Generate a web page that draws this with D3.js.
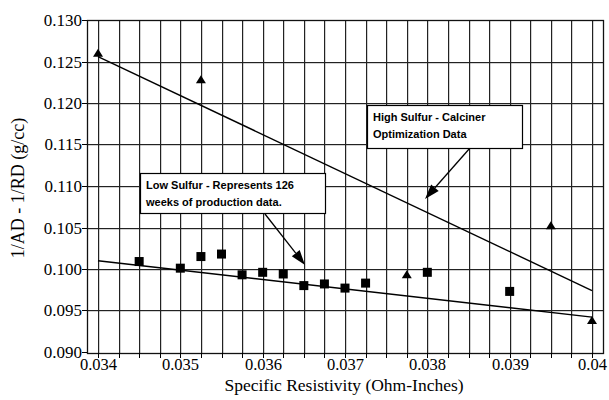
<!DOCTYPE html>
<html>
<head>
<meta charset="utf-8">
<script src="https://cdn.jsdelivr.net/npm/d3@7"></script>
<style>
  body { margin: 0; background: #fff; }
  .tick text { font-family: "Liberation Serif", "Times New Roman", serif; }
</style>
</head>
<body>
<div id="vis"></div>
<script>
// frame constants
const FRAME_WIDTH = 609;
const FRAME_HEIGHT = 400;
const PLOT = {left: 87, right: 603, top: 20, bottom: 353};

// data
const xTicks = [0.034, 0.035, 0.036, 0.037, 0.038, 0.039, 0.04];
const yTicks = [0.090, 0.095, 0.100, 0.105, 0.110, 0.115, 0.120, 0.125, 0.130];

// high sulfur - calciner optimization (triangles)
const highX = [0.034, 0.03525, 0.03775, 0.0395, 0.04];
const highY = [0.1260, 0.1228, 0.0993, 0.1052, 0.0938];

// low sulfur - 126 weeks of production (squares)
const lowX = [0.0345, 0.035, 0.03525, 0.0355, 0.03575, 0.036, 0.03625, 0.0365, 0.03675, 0.037, 0.03725, 0.038, 0.039];
const lowY = [0.1009, 0.1001, 0.1015, 0.1018, 0.0993, 0.0996, 0.0994, 0.0980, 0.0982, 0.0977, 0.0983, 0.0996, 0.0973];

// trend lines (end points)
const highFitX = [0.034, 0.04];
const highFitY = [0.1256, 0.0974];
const lowFitX = [0.034, 0.04];
const lowFitY = [0.1010, 0.0942];

const FRAME = d3.select("#vis")
  .append("svg")
    .attr("width", FRAME_WIDTH)
    .attr("height", FRAME_HEIGHT);

// white background
FRAME.append("rect")
  .attr("width", FRAME_WIDTH)
  .attr("height", FRAME_HEIGHT)
  .attr("fill", "#fff");

// scales
const X_SCALE = d3.scaleLinear()
  .domain([0.034, 0.04])
  .range([98, 592]);

const Y_SCALE = d3.scaleLinear()
  .domain([0.09, 0.13])
  .range([352, 20]);

// minor x steps every 0.00025
const xMinor = d3.range(0, 25).map((i) => { return 0.034 + i * 0.00025; });

// vertical grid: 1px wide bars
FRAME.append("g")
  .selectAll("rect")
  .data(xMinor)
  .enter()
  .append("rect")
    .attr("x", (d) => { return Math.round(X_SCALE(d)); })
    .attr("y", PLOT.top)
    .attr("width", 1.2)
    .attr("height", PLOT.bottom - PLOT.top)
    .attr("fill", "#222");

// horizontal grid
FRAME.append("g")
  .selectAll("rect")
  .data(yTicks.slice(1, -1))
  .enter()
  .append("rect")
    .attr("x", PLOT.left)
    .attr("y", (d) => { return Math.round(Y_SCALE(d)); })
    .attr("width", PLOT.right - PLOT.left)
    .attr("height", 1.2)
    .attr("fill", "#222");

// plot border
FRAME.append("rect")
  .attr("x", PLOT.left + 0.5)
  .attr("y", PLOT.top + 0.5)
  .attr("width", PLOT.right - PLOT.left)
  .attr("height", PLOT.bottom - PLOT.top)
  .attr("fill", "none")
  .attr("stroke", "#111")
  .attr("stroke-width", 1.3);

// snap tick positions to whole pixels
const snapX = (g) => g.selectAll(".tick")
  .attr("transform", (d) => { return "translate(" + (Math.round(X_SCALE(d)) + 0.5) + ",0)"; });
const snapY = (g) => g.selectAll(".tick")
  .attr("transform", (d) => { return "translate(0," + (Math.round(Y_SCALE(d)) + 0.5) + ")"; });

// x axis (minor ticks)
FRAME.append("g")
  .attr("transform", "translate(0," + PLOT.bottom + ")")
  .call(d3.axisBottom(X_SCALE).tickValues(xMinor).tickSize(5).tickFormat(""))
  .call(snapX)
  .call((g) => g.select(".domain").remove());

// x axis labels
FRAME.append("g")
  .attr("transform", "translate(0," + PLOT.bottom + ")")
  .call(d3.axisBottom(X_SCALE).tickValues(xTicks).tickSize(5).tickPadding(0)
        .tickFormat((d) => { return d === 0.04 ? "0.04" : d3.format(".3f")(d); }))
  .call(snapX)
  .call((g) => g.select(".domain").remove())
  .attr("font-size", "16.5px");

// y axis
FRAME.append("g")
  .attr("transform", "translate(" + PLOT.left + ",0)")
  .call(d3.axisLeft(Y_SCALE).tickValues(yTicks).tickSize(5).tickPadding(0)
        .tickFormat(d3.format(".3f")))
  .call(snapY)
  .call((g) => g.select(".domain").remove())
  .attr("font-size", "17px");

// axis titles
FRAME.append("text")
  .attr("x", 344)
  .attr("y", 391)
  .attr("text-anchor", "middle")
  .attr("font-family", "Liberation Serif, Times New Roman, serif")
  .attr("font-size", "17.5px")
  .text("Specific Resistivity (Ohm-Inches)");

FRAME.append("text")
  .attr("transform", "translate(24,188) rotate(-90)")
  .attr("text-anchor", "middle")
  .attr("font-family", "Liberation Serif, Times New Roman, serif")
  .attr("font-size", "18px")
  .text("1/AD - 1/RD (g/cc)");

// trend lines
const line = d3.line()
  .x((d) => { return X_SCALE(d[0]); })
  .y((d) => { return Y_SCALE(d[1]); });

FRAME.append("path")
  .datum(d3.zip(highFitX, highFitY))
  .attr("d", line)
  .attr("fill", "none")
  .attr("stroke", "#000")
  .attr("stroke-width", 1.4);

FRAME.append("path")
  .datum(d3.zip(lowFitX, lowFitY))
  .attr("d", line)
  .attr("fill", "none")
  .attr("stroke", "#000")
  .attr("stroke-width", 1.4);

// squares
FRAME.append("g")
  .selectAll("rect")
  .data(d3.zip(lowX, lowY))
  .enter()
  .append("rect")
    .attr("x", (d) => { return X_SCALE(d[0]) - 4.5; })
    .attr("y", (d) => { return Y_SCALE(d[1]) - 4.5; })
    .attr("width", 9)
    .attr("height", 9)
    .attr("fill", "#000");

// triangles
FRAME.append("g")
  .selectAll("path")
  .data(d3.zip(highX, highY))
  .enter()
  .append("path")
    .attr("transform", (d) => { return "translate(" + X_SCALE(d[0]) + "," + Y_SCALE(d[1]) + ")"; })
    .attr("d", "M0,-4.5L5,3.5L-5,3.5Z")
    .attr("fill", "#000");

// annotations
const notes = [
  {x: 140, y: 173, w: 185, h: 40, lines: ["Low Sulfur - Represents 126", "weeks of production data."],
   arrow: [[265, 214], [305, 265]]},
  {x: 367, y: 105, w: 155, h: 43, lines: ["High Sulfur  - Calciner", "Optimization Data"],
   arrow: [[470, 148], [425, 199]]}
];

notes.forEach((n) => {
  // arrow shaft + head
  const [p0, p1] = n.arrow;
  const ang = Math.atan2(p1[1] - p0[1], p1[0] - p0[0]);
  const L = 15, W = 5;
  const bx = p1[0] - L * Math.cos(ang), by = p1[1] - L * Math.sin(ang);
  FRAME.append("line")
    .attr("x1", p0[0]).attr("y1", p0[1])
    .attr("x2", bx).attr("y2", by)
    .attr("stroke", "#000")
    .attr("stroke-width", 1.3);
  FRAME.append("path")
    .attr("d", "M" + p1[0] + "," + p1[1] +
               "L" + (bx + W * Math.sin(ang)) + "," + (by - W * Math.cos(ang)) +
               "L" + (bx - W * Math.sin(ang)) + "," + (by + W * Math.cos(ang)) + "Z")
    .attr("fill", "#000");

  FRAME.append("rect")
    .attr("x", n.x + 0.5).attr("y", n.y + 0.5)
    .attr("width", n.w).attr("height", n.h)
    .attr("fill", "#fff")
    .attr("stroke", "#000")
    .attr("stroke-width", 1.2);

  FRAME.append("text")
    .attr("font-family", "Liberation Sans, Arial, sans-serif")
    .attr("font-weight", "bold")
    .attr("font-size", "11px")
    .selectAll("tspan")
    .data(n.lines)
    .enter()
    .append("tspan")
      .attr("x", n.x + 6)
      .attr("y", (d, i) => { return n.y + 16 + i * 17; })
      .text((d) => { return d; });
});
</script>
</body>
</html>
